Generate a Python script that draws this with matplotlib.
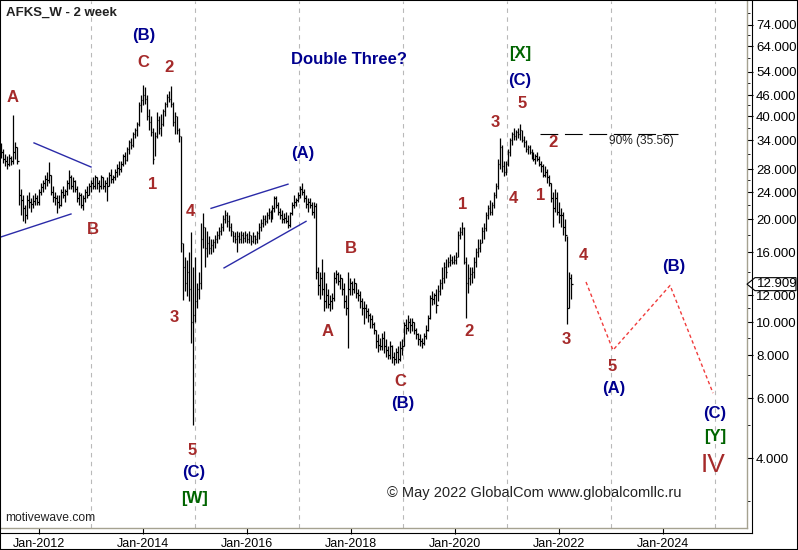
import numpy as np
import pandas as pd
import matplotlib
matplotlib.use('Agg')
import matplotlib.pyplot as plt
from matplotlib.patches import Polygon, Rectangle
from matplotlib.lines import Line2D
from matplotlib.ticker import FixedLocator, FuncFormatter, NullFormatter
from matplotlib.transforms import IdentityTransform

plt.rcParams['font.family'] = ['Liberation Sans', 'DejaVu Sans']

# 2-week bars
high = [
    33.3, 32.0, 31.1, 30.5, 31.0, 30.5, 40.3, 33.5, 32.5, 28.0,
    24.5, 23.5, 22.0, 23.5, 24.0, 23.0, 23.5, 23.8, 23.5, 24.5,
    25.5, 26.0, 27.0, 27.5, 29.3, 27.0, 25.0, 24.0, 23.5, 23.5,
    24.5, 25.0, 24.5, 26.0, 27.8, 27.0, 26.5, 26.0, 25.0, 24.0,
    23.8, 23.5, 24.5, 25.0, 25.5, 26.0, 26.5, 27.0, 26.5, 26.0,
    27.0, 26.5, 26.0, 26.5, 27.5, 28.0, 27.0, 28.0, 29.0, 29.5,
    29.5, 31.0, 31.5, 32.5, 34.0, 34.5, 36.0, 37.0, 38.5, 44.0,
    46.0, 49.3, 48.5, 46.0, 42.0, 40.0, 37.0, 36.0, 41.0, 40.0,
    40.5, 42.0, 44.0, 46.5, 47.5, 49.0, 44.0, 41.0, 40.0, 37.0,
    35.0, 17.0, 15.5, 15.2, 16.0, 18.3, 14.5, 15.5, 13.0, 14.0,
    19.5, 20.8, 19.0, 18.5, 17.8, 17.5, 17.5, 18.0, 18.5, 19.0,
    19.5, 20.5, 21.3, 21.0, 20.5, 19.5, 18.5, 18.3, 18.5, 18.3,
    18.5, 18.3, 18.5, 18.2, 18.5, 18.0, 18.3, 18.0, 18.5, 19.5,
    20.0, 20.5, 20.5, 21.0, 21.5, 21.3, 22.0, 23.4, 23.3, 22.5,
    21.5, 21.3, 20.8, 21.0, 20.5, 21.0, 22.5, 23.5, 23.0, 24.0,
    25.0, 25.5, 24.5, 23.5, 23.0, 23.0, 22.5, 22.5, 22.3, 14.5,
    14.0, 15.3, 14.0, 13.0, 12.5, 12.0, 12.2, 14.0, 14.2, 14.0,
    13.8, 13.5, 13.0, 12.0, 14.0, 13.5, 13.2, 13.5, 13.0, 12.5,
    12.3, 11.8, 11.5, 11.3, 11.0, 10.6, 10.5, 10.0, 9.5, 9.2,
    9.0, 9.3, 9.4, 8.9, 8.5, 8.8, 8.6, 8.2, 8.4, 8.5,
    8.8, 8.9, 10.0, 10.2, 10.5, 10.3, 10.3, 10.0, 9.6, 9.3,
    9.2, 9.0, 9.3, 9.8, 10.5, 12.0, 12.3, 12.2, 12.5, 12.8,
    13.4, 14.5, 15.0, 15.3, 15.5, 15.8, 15.6, 15.7, 16.0, 18.5,
    19.0, 19.6, 19.0, 15.5, 14.8, 14.5, 14.5, 15.5, 16.5, 17.5,
    17.5, 19.0, 19.5, 21.0, 22.0, 22.7, 22.5, 24.0, 25.5, 30.0,
    34.5, 33.0, 29.5, 29.5, 32.0, 34.5, 36.0, 37.0, 36.5, 37.0,
    38.0, 36.5, 35.0, 34.0, 33.0, 33.0, 32.0, 31.5, 31.0, 31.5,
    30.5, 29.5, 29.0, 28.5, 28.0, 27.0, 25.5, 24.0, 24.5, 24.0,
    22.5, 21.5, 21.0, 20.0, 17.8, 14.0, 13.8]
low = [
    30.1, 29.1, 28.5, 28.0, 28.5, 28.8, 29.0, 30.0, 29.0, 22.0,
    20.5, 19.8, 19.5, 20.0, 21.5, 21.0, 21.5, 22.0, 22.0, 22.0,
    23.5, 24.0, 24.5, 25.0, 25.5, 23.5, 22.5, 22.0, 20.8, 21.5,
    21.8, 23.0, 22.5, 23.5, 24.5, 24.5, 24.0, 24.0, 22.5, 22.0,
    21.5, 21.3, 22.5, 23.0, 23.5, 24.0, 24.5, 24.5, 24.5, 24.0,
    24.5, 24.5, 24.0, 22.6, 25.0, 25.5, 25.5, 26.0, 26.5, 27.0,
    27.5, 28.5, 29.0, 29.5, 31.0, 32.0, 32.5, 34.5, 35.0, 37.5,
    41.0, 43.0, 43.5, 39.0, 36.5, 35.0, 29.0, 30.5, 34.5, 35.5,
    35.0, 37.5, 40.0, 42.5, 44.0, 42.5, 37.5, 35.5, 35.5, 33.5,
    16.0, 11.6, 12.3, 11.9, 11.5, 8.7, 5.0, 10.0, 11.0, 11.7,
    12.5, 16.5, 14.5, 15.5, 15.8, 15.8, 16.0, 16.5, 17.0, 17.5,
    18.0, 18.5, 19.5, 19.0, 18.5, 17.8, 17.2, 17.0, 16.0, 17.0,
    17.0, 17.0, 17.2, 17.0, 17.0, 16.8, 17.0, 16.9, 17.0, 17.5,
    18.5, 19.0, 19.2, 19.5, 20.0, 19.6, 20.0, 21.0, 21.5, 20.5,
    20.0, 19.5, 19.5, 19.5, 18.9, 19.0, 20.5, 21.5, 21.8, 22.5,
    23.0, 23.5, 22.5, 21.5, 21.0, 21.5, 20.5, 20.2, 13.4, 12.0,
    11.7, 12.0, 10.8, 11.0, 11.0, 10.8, 10.9, 11.5, 13.0, 12.8,
    12.5, 12.0, 11.0, 10.5, 8.4, 12.0, 12.0, 12.2, 11.8, 11.5,
    11.0, 10.5, 9.9, 10.3, 10.0, 9.6, 9.6, 9.2, 8.4, 8.2,
    8.3, 8.3, 8.1, 7.9, 7.8, 7.8, 7.6, 7.5, 7.6, 7.6,
    7.7, 8.0, 8.5, 9.2, 9.4, 9.3, 9.4, 9.2, 8.9, 8.6,
    8.5, 8.4, 8.6, 8.9, 9.4, 10.2, 11.2, 11.3, 10.6, 11.5,
    12.0, 12.5, 13.0, 13.5, 14.5, 14.6, 14.8, 14.8, 14.8, 15.5,
    17.5, 18.0, 14.8, 10.3, 12.2, 12.8, 13.0, 13.5, 14.5, 15.5,
    16.0, 17.0, 17.5, 18.5, 20.0, 20.5, 20.5, 21.5, 23.0, 24.5,
    28.0, 27.5, 26.8, 27.0, 28.5, 30.5, 33.0, 34.0, 34.0, 34.5,
    34.0, 33.5, 32.5, 31.5, 31.0, 31.0, 30.0, 29.5, 29.0, 29.5,
    28.5, 27.5, 26.5, 26.5, 25.5, 25.0, 22.5, 19.0, 21.0, 20.5,
    19.5, 19.0, 18.0, 17.3, 9.9, 11.0, 11.7]
close = [
    31.5, 30.0, 29.5, 29.0, 30.2, 29.5, 31.5, 32.5, 29.5, 23.5,
    22.8, 21.5, 20.5, 22.8, 22.5, 22.2, 22.6, 23.0, 22.5, 24.0,
    24.8, 25.5, 26.2, 26.0, 27.0, 24.0, 23.2, 23.0, 22.5, 22.0,
    24.0, 23.5, 24.2, 25.5, 26.5, 25.0, 25.8, 24.5, 23.0, 23.5,
    22.0, 23.0, 24.0, 23.5, 25.0, 25.5, 25.0, 26.5, 25.5, 25.0,
    26.5, 25.0, 25.5, 25.0, 27.0, 26.2, 26.5, 27.5, 28.3, 28.0,
    29.0, 30.5, 29.8, 32.0, 33.5, 33.0, 35.5, 36.5, 38.0, 43.0,
    44.5, 46.0, 45.0, 40.0, 38.5, 36.0, 30.0, 35.0, 39.0, 37.0,
    38.0, 41.5, 43.5, 45.5, 45.0, 43.5, 38.5, 40.0, 36.5, 35.0,
    17.0, 14.5, 13.0, 14.0, 12.5, 10.0, 10.5, 11.5, 12.5, 13.0,
    17.5, 19.0, 16.5, 17.0, 16.5, 16.8, 17.2, 17.5, 18.0, 18.5,
    19.0, 20.0, 20.5, 19.8, 19.0, 18.5, 17.8, 17.5, 17.8, 17.5,
    18.0, 17.6, 18.0, 17.5, 18.0, 17.3, 17.8, 17.5, 18.2, 19.0,
    19.5, 20.0, 19.8, 20.5, 21.0, 20.2, 21.5, 23.0, 22.0, 21.0,
    20.5, 20.0, 20.2, 19.8, 19.2, 20.8, 22.0, 22.5, 22.8, 23.5,
    24.5, 24.0, 23.0, 22.2, 22.5, 22.0, 21.0, 21.8, 14.0, 12.8,
    13.5, 12.5, 11.5, 12.0, 11.3, 11.5, 11.8, 13.5, 13.8, 13.2,
    13.5, 12.5, 11.5, 11.0, 12.5, 13.0, 12.5, 13.0, 12.2, 12.0,
    11.5, 11.0, 11.0, 10.8, 10.5, 10.2, 9.9, 9.5, 8.8, 8.6,
    8.5, 9.0, 8.5, 8.3, 8.0, 8.5, 7.9, 7.8, 8.2, 7.8,
    8.4, 8.5, 9.8, 9.6, 10.0, 9.8, 10.0, 9.5, 9.2, 8.9,
    8.8, 8.7, 9.1, 9.5, 10.3, 11.8, 11.7, 12.0, 11.2, 12.3,
    13.0, 13.5, 14.5, 14.0, 15.0, 15.2, 15.0, 15.2, 15.5, 18.0,
    18.3, 18.8, 15.0, 13.0, 13.5, 13.8, 14.0, 15.0, 16.0, 16.5,
    17.0, 18.5, 18.8, 20.5, 21.5, 21.0, 22.0, 23.5, 25.0, 29.0,
    32.5, 28.5, 27.5, 29.0, 31.5, 34.0, 35.5, 35.0, 36.0, 35.5,
    36.5, 34.0, 33.5, 32.0, 32.5, 31.5, 30.5, 30.0, 30.5, 30.0,
    29.0, 28.5, 27.0, 27.5, 26.5, 25.5, 23.0, 21.5, 23.0, 21.0,
    20.5, 20.5, 19.0, 18.0, 11.0, 13.5, 12.909]
last_price = 12.909

dates = pd.date_range('2011-04-12', periods=len(close), freq='14D')
xbar = dates.year + (dates.dayofyear - 1) / 365.25

price_ticks = [4, 6, 8, 10, 12, 16, 20, 24, 28, 34, 40, 46, 54, 64, 74]
minor_ticks = [3, 5, 7, 9, 11, 14, 18, 22, 26, 31, 37, 43, 50, 59, 69, 80]
year_ticks = [2012, 2014, 2016, 2018, 2020, 2022, 2024]
grid_years = [2013, 2015, 2017, 2019, 2021, 2023, 2025]

# channel / triangle lines: (year, price) pairs
blue_lines = [
    ([2011.904, 2013.0], [33.4, 28.4]),
    ([2011.25, 2012.615], [17.7, 20.7]),
    ([2015.308, 2016.788], [21.5, 25.3]),
    ([2015.558, 2017.135], [14.4, 19.7]),
]
proj_years = [2022.519, 2023.038, 2024.135, 2024.962]
proj_prices = [13.1, 8.28, 12.8, 6.2]
fib_level = 35.56
fib_span = [2021.635, 2024.29]

RED = '#A52A2A'
NAVY = '#00008F'
GREEN = '#006400'
wave_labels = [
    ('A', 2011.494, 45.3, RED), ('(B)', 2014.019, 68.6, NAVY),
    ('C', 2014.006, 57.2, RED), ('2', 2014.506, 55.3, RED),
    ('B', 2013.032, 18.7, RED), ('1', 2014.186, 25.3, RED),
    ('4', 2014.917, 21.1, RED), ('3', 2014.596, 10.3, RED),
    ('5', 2014.936, 4.22, RED), ('(C)', 2014.968, 3.64, NAVY),
    ('[W]', 2014.987, 3.06, GREEN), ('(A)', 2017.064, 31.2, NAVY),
    ('B', 2017.994, 16.45, RED), ('A', 2017.545, 9.4, RED),
    ('C', 2018.948, 6.7, RED), ('(B)', 2019.0, 5.8, NAVY),
    ('1', 2020.148, 22.1, RED), ('2', 2020.263, 9.4, RED),
    ('3', 2020.783, 38.2, RED), ('4', 2021.121, 23.0, RED),
    ('[X]', 2021.25, 60.8, GREEN), ('(C)', 2021.25, 51.0, NAVY),
    ('5', 2021.282, 43.4, RED), ('1', 2021.648, 23.5, RED),
    ('2', 2021.879, 33.4, RED), ('4', 2022.468, 15.7, RED),
    ('3', 2022.148, 8.9, RED), ('5', 2023.013, 7.4, RED),
    ('(A)', 2023.045, 6.4, NAVY), ('(B)', 2024.212, 14.5, NAVY),
    ('(C)', 2024.987, 5.42, NAVY), ('[Y]', 2025.0, 4.64, GREEN),
]

W, H = 798, 550
fig = plt.figure(figsize=(W / 100, H / 100), dpi=100, facecolor='white')
ax = fig.add_axes([1 / W, (H - 527.5) / H, 746 / W, 526.5 / H])
ax.set_facecolor('white')
ax.set_yscale('log')
ax.set_xlim(2011.269, 2025.615)
ax.set_ylim(2.51, 86.8)

ax.vlines(grid_years, 2.51, 86.8, colors='#B9B9B9', lw=0.8,
          linestyles=(0, (4, 4)), zorder=1)

ax.vlines(xbar, low, high, colors='black', lw=0.9, zorder=3)
ax.hlines(close, xbar, xbar + 1.6 / 52, colors='black', lw=0.9, zorder=3)

for xs, ys in blue_lines:
    ax.plot(xs, ys, color='#2B2BA8', lw=1.0, zorder=2)
ax.plot(proj_years, proj_prices, color='#F03C3C', lw=1.0,
        linestyle=(0, (2.5, 2)), zorder=2)
ax.hlines(fib_level, fib_span[0], fib_span[1], colors='black', lw=0.8,
          linestyles=(0, (16, 6)), zorder=2)
ax.text(2023.58, 33.9, '90% (35.56)', fontsize=8.6, color='#222222',
        ha='center', va='center')

for txt, xv, yv, col in wave_labels:
    ax.text(xv, yv, txt, color=col, fontsize=12, fontweight='bold',
            ha='center', va='center', zorder=4)
ax.text(2024.967, 3.82, 'IV', color=RED, fontsize=19, ha='center',
        va='center', zorder=4)
ax.text(2017.968, 58.4, 'Double Three?', color=NAVY, fontsize=12,
        fontweight='bold', ha='center', va='center')

# axes styling
for s in ['left', 'top']:
    ax.spines[s].set_visible(False)
for s in ['right', 'bottom']:
    ax.spines[s].set_color('#A5A290')
    ax.spines[s].set_linewidth(1.0)

ax.yaxis.tick_right()
ax.yaxis.set_major_locator(FixedLocator(price_ticks))
ax.yaxis.set_major_formatter(FuncFormatter(lambda v, p: f'{v:.3f}'))
ax.yaxis.set_minor_locator(FixedLocator(minor_ticks))
ax.yaxis.set_minor_formatter(NullFormatter())
ax.tick_params(axis='y', which='major', direction='out', length=4.5,
               width=0.8, pad=2, labelsize=9.5, colors='black')
ax.tick_params(axis='y', which='minor', direction='out', length=2,
               width=0.6)

ax.set_xticks(year_ticks)
ax.set_xticklabels([f'Jan-{y}' for y in year_ticks])
ax.tick_params(axis='x', direction='out', length=4.3, width=0.8, pad=3,
               labelsize=9)

# price / time axis lines and outer frame
fig.add_artist(Line2D([752 / W, 752 / W], [1, (H - 533) / H], color='black',
                      lw=0.8, transform=fig.transFigure))
fig.add_artist(Line2D([0, 752 / W], [(H - 533) / H, (H - 533) / H],
                      color='black', lw=0.8, transform=fig.transFigure))
fig.add_artist(Rectangle((0, 0), 1, 1, fill=False, edgecolor='black', lw=1.5,
                         transform=fig.transFigure))

# last price marker
yl = ax.transData.transform((2020, last_price))[1]
box = Polygon([[747, yl], [755, yl + 6.5], [796, yl + 6.5], [796, yl - 6.5],
               [755, yl - 6.5]], closed=True, facecolor='white',
              edgecolor='black', lw=0.8, transform=IdentityTransform())
fig.add_artist(box)
fig.text(757, yl, f'{last_price:.3f}', fontsize=9.5, va='center', ha='left',
         transform=IdentityTransform())

fig.text(6 / W, 1 - 13 / H, 'AFKS_W - 2 week', fontsize=9.5,
         fontweight='bold', color='#222222', va='center')
fig.text(5 / W, 1 - 518 / H, 'motivewave.com', fontsize=8.7,
         color='#222222', va='center')
fig.text(387 / W, 1 - 493 / H, '\u00a9 May 2022 GlobalCom www.globalcomllc.ru',
         fontsize=10.5, color='#222222', va='center')

fig.savefig('out.png', dpi=100, facecolor='white')
